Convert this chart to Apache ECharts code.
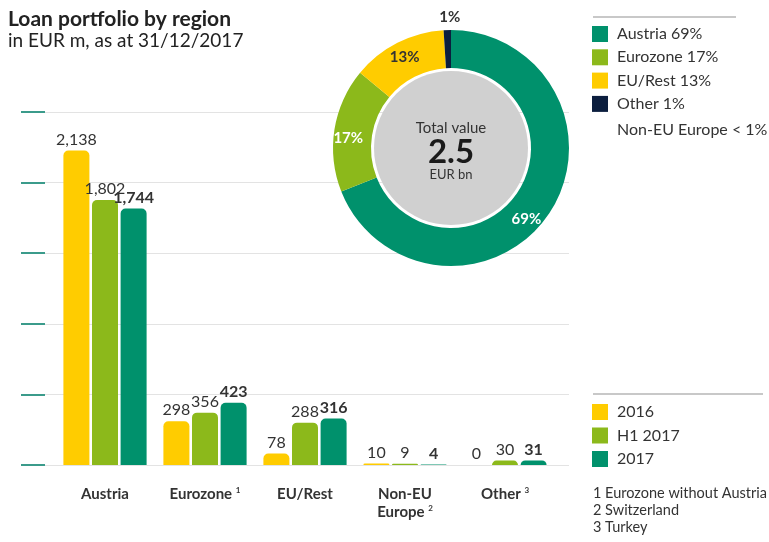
<!DOCTYPE html>
<html lang="en">
<head>
<meta charset="UTF-8">
<title>Loan portfolio by region</title>
<script src="https://cdn.jsdelivr.net/npm/echarts@6/dist/echarts.min.js"></script>
<style>
    html, body { margin: 0; padding: 0; background: #fff; }
    #main { width: 769px; height: 542px; }
</style>
</head>
<body>
<div id="main"></div>
<script>
    // loans by region, EUR m
    const categories = ['Austria', 'Eurozone', 'EU/Rest', 'Non-EU Europe', 'Other'];
    const footMarks = ['', '1', '', '2', '3'];
    const periods = ['2016', 'H1 2017', '2017'];
    const values2016 = [2138, 298, 78, 10, 0];
    const valuesH1 = [1802, 356, 288, 9, 30];
    const values2017 = [1744, 423, 316, 4, 31];

    // share of the 2017 portfolio in %
    const pieNames = ['Austria', 'Eurozone', 'EU/Rest', 'Other'];
    const pieShares = [69, 17, 13, 1];
    const totalBn = '2.5';

    // y scale (ticks only, no labels)
    const yTicks = [0, 480, 960, 1440, 1920, 2400];

    const footnotes = ['1 Eurozone without Austria', '2 Switzerland', '3 Turkey'];

    const yellow = '#ffcc00', lime = '#8cb91b', teal = '#00916c', navy = '#0b1e3e';
    const font = 'Lato';
    const txt = '#333';

    const fmt = p => p.value.toLocaleString('en-US');

    function barSeries(name, data, color, bold) {
        return {
            name: name,
            type: 'bar',
            xAxisIndex: 0,
            yAxisIndex: 0,
            data: data,
            barWidth: 26,
            barGap: '10%',
            itemStyle: { color: color, borderRadius: [5, 5, 0, 0] },
            label: {
                show: true, position: 'top', distance: 3,
                fontSize: 16, color: txt, fontWeight: bold ? 'bold' : 'normal',
                formatter: fmt
            },
            emphasis: { disabled: true }
        };
    }

    // label tweaks so the percentages sit where they do in the original
    const pieColors = [teal, lime, yellow, navy];
    const pieLabels = [
        { offset: [-9, 14] },
        { offset: [-2, 6] },
        { color: txt },
        { color: txt, offset: [2, -29] }
    ];

    const chart = echarts.init(document.getElementById('main'));
    const option = {
        textStyle: { fontFamily: font },
        animation: false,
        title: [
            { text: 'Loan portfolio by region', left: 3, top: 4,
              textStyle: { fontSize: 21, fontWeight: 'bold', color: '#222' } },
            { text: 'in EUR m, as at 31/12/2017', left: 3, top: 26,
              textStyle: { fontSize: 19, fontWeight: 'normal', color: '#222' } }
        ],
        legend: [
            {
                data: pieNames, orient: 'vertical', left: 592, top: 26, padding: 0,
                itemWidth: 16, itemHeight: 16, itemGap: 7.3, icon: 'rect', selectedMode: false,
                textStyle: { fontSize: 16, color: txt, lineHeight: 16, padding: [0, 0, 0, 4] },
                formatter: n => n + ' ' + pieShares[pieNames.indexOf(n)] + '%'
            },
            {
                data: periods, orient: 'vertical', left: 592, top: 404, padding: 0,
                itemWidth: 16, itemHeight: 16, itemGap: 7.5, icon: 'rect', selectedMode: false,
                textStyle: { fontSize: 16, color: txt, lineHeight: 16, padding: [0, 0, 0, 4] }
            }
        ],
        grid: [
            { left: 55, right: 214, top: 112, bottom: 77 },   // bars
            { left: 45, right: 200, top: 112, bottom: 77 }    // grid lines + ticks
        ],
        xAxis: [
            {
                gridIndex: 0, type: 'category', data: categories,
                axisLine: { show: false }, axisTick: { show: false },
                axisLabel: {
                    interval: 0, hideOverlap: false,
                    margin: 20, fontSize: 15, fontWeight: 'bold', color: txt, lineHeight: 18,
                    formatter: (v, i) => {
                        const n = v.replace('Non-EU ', 'Non-EU\n');
                        return footMarks[i] ? n + ' {s|' + footMarks[i] + '}' : n;
                    },
                    rich: { s: { fontSize: 8, fontWeight: 'bold', color: txt, padding: [0, 0, 8, 0] } }
                }
            },
            { gridIndex: 1, type: 'value', show: false, min: 0, max: 1 }
        ],
        yAxis: [
            { gridIndex: 0, type: 'value', min: yTicks[0], max: yTicks[yTicks.length - 1], show: false },
            {
                gridIndex: 1, type: 'value', min: yTicks[0], max: yTicks[yTicks.length - 1],
                interval: yTicks[1] - yTicks[0], offset: 12,
                axisLine: { show: false },
                axisLabel: { show: false },
                axisTick: { show: true, length: 24, lineStyle: { color: '#3b9b8b', width: 2 } },
                splitLine: { lineStyle: { color: '#e3e3e3', width: 1 } }
            }
        ],
        series: [
            barSeries(periods[0], values2016, yellow, false),
            barSeries(periods[1], valuesH1, lime, false),
            barSeries(periods[2], values2017, teal, true),
            {
                type: 'pie', center: [451, 148], radius: [0, 77], silent: true,
                label: { show: false }, labelLine: { show: false },
                data: [{ value: 1, name: 'total', itemStyle: { color: '#d0d0d0' } }]
            },
            {
                type: 'pie', center: [451, 148], radius: [80, 118],
                startAngle: 90, clockwise: true, avoidLabelOverlap: false,
                emphasis: { disabled: true },
                label: { show: true, position: 'inside', formatter: '{c}%',
                         fontSize: 15, fontWeight: 'bold', color: '#fff' },
                labelLine: { show: false },
                data: pieNames.map((n, i) => ({
                    name: n, value: pieShares[i],
                    itemStyle: { color: pieColors[i] },
                    label: pieLabels[i]
                }))
            }
        ],
        graphic: [
            { type: 'line', shape: { x1: 593, y1: 17, x2: 736, y2: 17 },
              style: { stroke: '#c8c8c8', lineWidth: 2 } },
            { type: 'line', shape: { x1: 593, y1: 394, x2: 763, y2: 394 },
              style: { stroke: '#c8c8c8', lineWidth: 2 } },
            { type: 'text', x: 617, y: 130,
              style: { text: 'Non-EU Europe < 1%', font: '16px Lato', fill: txt, verticalAlign: 'middle' } },
            { type: 'text', x: 451, y: 128, z: 100,
              style: { text: 'Total value', font: '15px Lato', fill: txt, align: 'center', verticalAlign: 'middle' } },
            { type: 'text', x: 451, y: 152, z: 100,
              style: { text: totalBn, font: 'bold 33px Lato', fill: '#1a1a1a', align: 'center', verticalAlign: 'middle' } },
            { type: 'text', x: 451, y: 175, z: 100,
              style: { text: 'EUR bn', font: '13px Lato', fill: txt, align: 'center', verticalAlign: 'middle' } }
        ].concat(footnotes.map((t, i) => ({
            type: 'text', x: 593, y: 493 + i * 17,
            style: { text: t, font: '14.5px Lato', fill: txt, verticalAlign: 'middle' }
        })))
    };
    chart.setOption(option);
</script>
</body>
</html>
